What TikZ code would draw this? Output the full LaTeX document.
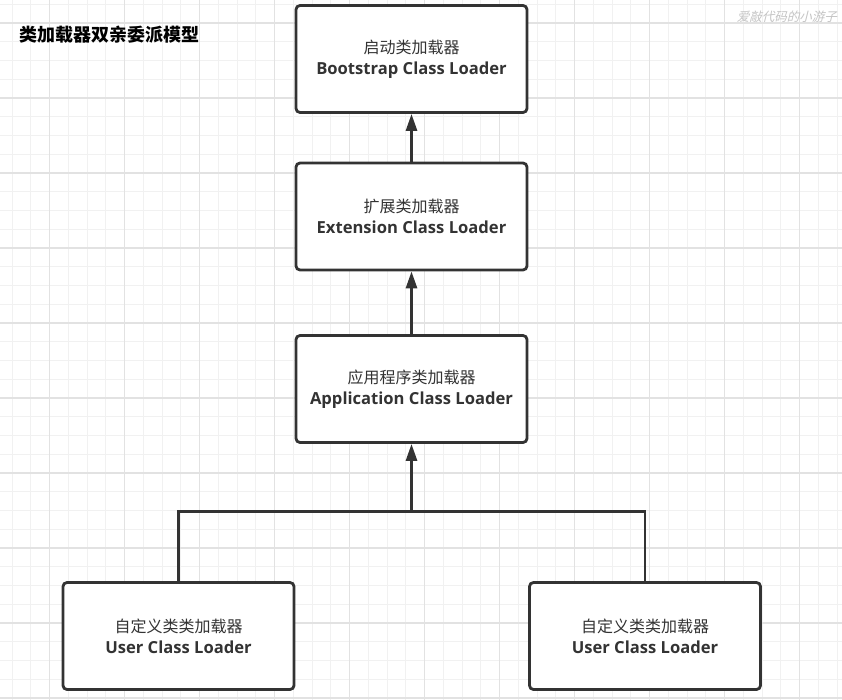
\documentclass[tikz,border=0pt]{standalone}
\usepackage{fontspec}
\usetikzlibrary{arrows.meta}
\setmainfont{Noto Sans CJK SC}
\newfontfamily\cjk{Noto Sans CJK SC}
\newfontfamily\wmfont{Noto Sans CJK SC}[FakeSlant=0.25]
\newfontfamily\enfont{Open Sans}
\newcommand\enline{\enfont\bfseries\fontsize{16.6bp}{21bp}\selectfont}
\definecolor{boxc}{HTML}{333333}
\definecolor{txtc}{HTML}{333333}
\definecolor{minorc}{HTML}{F1F1F1}
\definecolor{majorc}{HTML}{E2E2E2}
\definecolor{wmc}{HTML}{C4C4C4}
\begin{document}
\begin{tikzpicture}[x=1bp,y=-1bp,
  minorline/.style={draw=minorc, line width=1bp},
  majorline/.style={draw=majorc, line width=1.2bp},
  box/.style={draw=boxc, line width=2.8bp, rounded corners=4bp, fill=white,
    minimum width=231bp, minimum height=107bp, align=center, text=txtc,
    inner sep=0pt, font=\fontsize{16bp}{21bp}\selectfont},
  conn/.style={draw=boxc, line width=2.8bp},
  arr/.style={conn, -{Triangle[width=11bp,length=17bp]}}]
\useasboundingbox (0,0) rectangle (842,700);
\fill[white] (0,0) rectangle (842,700);
% grid
\foreach \i in {0,...,45} {
  \draw[minorline] ({12+18.75*\i},0) -- ({12+18.75*\i},700);
}
\foreach \i in {0,...,37} {
  \draw[minorline] (0,{4.25+18.75*\i}) -- (842,{4.25+18.75*\i});
}
\foreach \i in {0,...,10} {
  \draw[majorline] ({49.5+75*\i},0) -- ({49.5+75*\i},700);
}
\foreach \i in {0,...,9} {
  \draw[majorline] (0,{23+75*\i}) -- (842,{23+75*\i});
}
% title and watermark
\node[anchor=west, inner sep=0pt, font=\cjk\bfseries\fontsize{18bp}{18bp}\selectfont] (title) at (19,35) {类加载器双亲委派模型};
\node[anchor=east, inner sep=0pt, text=wmc, font=\wmfont\fontsize{12.5bp}{12.5bp}\selectfont] (wm) at (837,17) {爱敲代码的小游子};
% boxes
\node[box] (boot) at (411.5,59) {\cjk 启动类加载器\\\enline Bootstrap Class Loader};
\node[box] (ext) at (411.5,216.5) {\cjk 扩展类加载器\\\enline Extension Class Loader};
\node[box] (app) at (411.5,389) {\cjk 应用程序类加载器\\\enline Application Class Loader};
\node[box] (uL) at (178.5,636) {\cjk 自定义类类加载器\\\enline User Class Loader};
\node[box] (uR) at (645,636) {\cjk 自定义类类加载器\\\enline User Class Loader};
% connectors
\draw[arr] (ext) -- (boot);
\draw[arr] (app) -- (ext);
\coordinate (j) at (411.5,511.5);
\draw[conn] (uL.north) |- (j) -| (uR.north);
\draw[arr] (j) -- (app.south);
\end{tikzpicture}
\end{document}
